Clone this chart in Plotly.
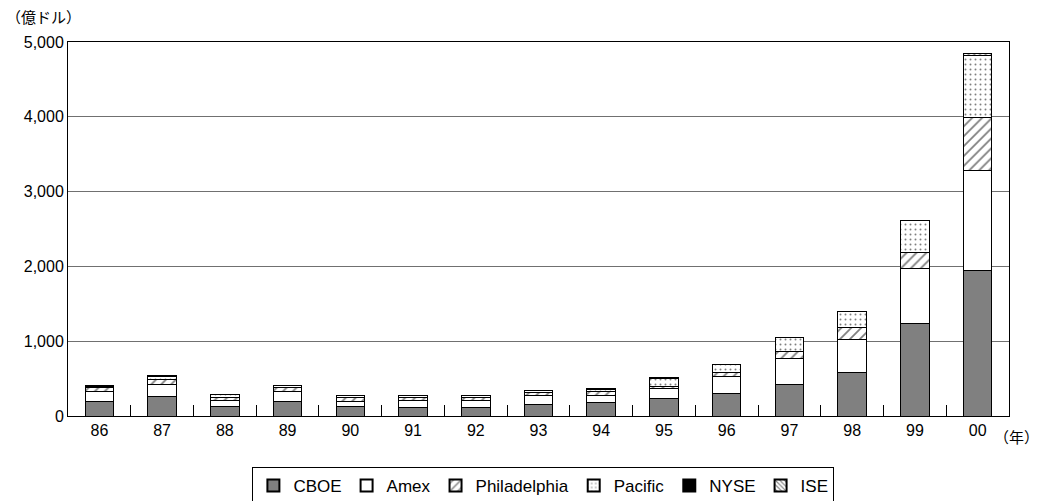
import plotly.graph_objects as go

years = ["86", "87", "88", "89", "90", "91", "92", "93", "94", "95", "96", "97", "98", "99", "00"]
cboe = [200, 260, 127, 200, 125, 118, 120, 155, 175, 230, 305, 420, 580, 1240, 1940]
amex = [130, 160, 80, 130, 75, 85, 85, 120, 100, 135, 225, 348, 440, 730, 1345]
phil = [45, 63, 44, 45, 50, 40, 40, 36, 55, 35, 57, 98, 160, 210, 710]
pacific = [25, 50, 30, 30, 25, 25, 25, 28, 30, 105, 95, 177, 220, 430, 825]
nyse = [8, 10, 5, 8, 5, 5, 5, 5, 5, 5, 5, 0, 0, 0, 0]
ise = [0, 0, 0, 0, 0, 0, 0, 0, 0, 0, 0, 0, 0, 0, 30]

series = [
    ("CBOE", cboe, dict(color="#808080")),
    ("Amex", amex, dict(color="#ffffff")),
    ("Philadelphia", phil, dict(color="#ffffff", pattern=dict(shape="/", fgcolor="#000000", bgcolor="#ffffff", size=7, solidity=0.25))),
    ("Pacific", pacific, dict(color="#ffffff", pattern=dict(shape=".", fgcolor="#000000", bgcolor="#ffffff", size=5, solidity=0.12))),
    ("NYSE", nyse, dict(color="#000000")),
    ("ISE", ise, dict(color="#ffffff", pattern=dict(shape="\\", fgcolor="#000000", bgcolor="#ffffff", size=4, solidity=0.35))),
]

fig = go.Figure()
for name, vals, m in series:
    marker = dict(m)
    marker["line"] = dict(color="#000000", width=1)
    fig.add_trace(go.Bar(name=name, x=years, y=vals, marker=marker))

font_main = "Liberation Sans, Arial, sans-serif"
fig.update_layout(
    barmode="stack",
    bargap=0.545,
    width=1045,
    height=501,
    margin=dict(l=68, r=36, t=42, b=85, autoexpand=False),
    paper_bgcolor="#ffffff",
    plot_bgcolor="#ffffff",
    font=dict(family=font_main, size=16, color="#000000"),
    xaxis=dict(
        type="category",
        automargin=False,
        showline=True, linecolor="#000000", linewidth=1, mirror=True,
        ticks="inside", tickson="boundaries", ticklen=11, tickcolor="#000000", tickwidth=1,
        showgrid=False,
        tickfont=dict(size=16),
    ),
    yaxis=dict(
        automargin=False,
        range=[0, 5000],
        tickvals=[0, 1000, 2000, 3000, 4000, 5000],
        tickformat=",",
        showline=True, linecolor="#000000", linewidth=1, mirror=True,
        showgrid=True, gridcolor="#707070", gridwidth=1,
        ticks="", zeroline=False,
        tickfont=dict(size=16),
    ),
    legend=dict(
        orientation="h",
        x=0.52, xanchor="center", xref="container",
        y=0.068, yanchor="top", yref="container",
        bordercolor="#000000", borderwidth=1,
        font=dict(size=17),
        traceorder="normal",
        itemsizing="constant",
        itemwidth=30,
    ),
    annotations=[
        dict(text="（億ドル）", xref="paper", yref="paper", x=-0.068, y=1.067,
             xanchor="left", yanchor="middle", showarrow=False,
             font=dict(family="Noto Sans CJK JP", size=15)),
        dict(text="（年）", xref="paper", yref="paper", x=1.034, y=-0.056,
             xanchor="right", yanchor="middle", showarrow=False,
             font=dict(family="Noto Sans CJK JP", size=15)),
    ],
)

fig.write_html("out.html")
